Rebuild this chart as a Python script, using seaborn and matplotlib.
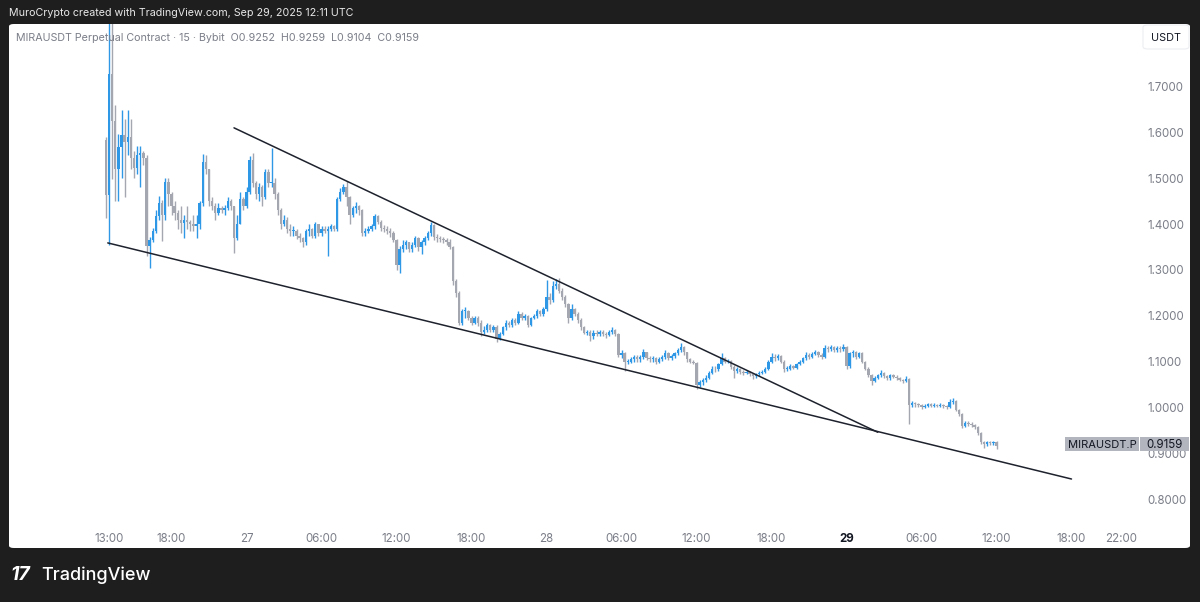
import numpy as np
import pandas as pd
import seaborn as sns
from matplotlib import pyplot as plt
from matplotlib.patches import Rectangle, FancyBboxPatch

# 15 minute candles, first one at Sep 26 12:45 (hours counted from Sep 26 00:00)
first_open = 1.584
closes = [
    1.463, 1.728, 1.624, 1.520, 1.569, 1.595, 1.580, 1.590, 1.545, 1.522, 1.550, 1.555,
    1.545, 1.353, 1.365, 1.385, 1.418, 1.445, 1.420, 1.492, 1.465, 1.440, 1.425, 1.410,
    1.403, 1.410, 1.405, 1.400, 1.395, 1.400, 1.447, 1.536, 1.520, 1.450, 1.440, 1.425,
    1.435, 1.430, 1.435, 1.450, 1.440, 1.370, 1.400, 1.455, 1.440, 1.470, 1.540, 1.490,
    1.465, 1.480, 1.460, 1.514, 1.490, 1.490, 1.465, 1.430, 1.400, 1.410, 1.390, 1.385,
    1.385, 1.375, 1.370, 1.360, 1.385, 1.390, 1.375, 1.400, 1.380, 1.390, 1.385, 1.390,
    1.395, 1.390, 1.455, 1.470, 1.480, 1.460, 1.420, 1.435, 1.440, 1.430, 1.380, 1.385,
    1.390, 1.395, 1.418, 1.405, 1.392, 1.390, 1.385, 1.380, 1.365, 1.310, 1.345, 1.355,
    1.360, 1.345, 1.355, 1.370, 1.350, 1.360, 1.370, 1.380, 1.398, 1.372, 1.370, 1.368,
    1.365, 1.362, 1.350, 1.275, 1.250, 1.185, 1.210, 1.210, 1.195, 1.185, 1.195, 1.185,
    1.165, 1.170, 1.180, 1.170, 1.175, 1.150, 1.160, 1.175, 1.185, 1.180, 1.190, 1.185,
    1.205, 1.195, 1.200, 1.180, 1.195, 1.200, 1.210, 1.205, 1.215, 1.240, 1.235, 1.265,
    1.270, 1.255, 1.240, 1.225, 1.195, 1.215, 1.205, 1.190, 1.175, 1.163, 1.165, 1.155,
    1.163, 1.160, 1.165, 1.160, 1.158, 1.165, 1.170, 1.160, 1.114, 1.118, 1.100, 1.100,
    1.105, 1.110, 1.105, 1.110, 1.120, 1.108, 1.105, 1.108, 1.100, 1.105, 1.110, 1.118,
    1.108, 1.112, 1.118, 1.125, 1.132, 1.120, 1.105, 1.100, 1.098, 1.048, 1.055, 1.060,
    1.065, 1.075, 1.085, 1.083, 1.095, 1.108, 1.100, 1.102, 1.088, 1.080, 1.083, 1.078,
    1.075, 1.078, 1.072, 1.068, 1.072, 1.075, 1.078, 1.085, 1.100, 1.110, 1.108, 1.112,
    1.100, 1.085, 1.085, 1.090, 1.087, 1.095, 1.100, 1.107, 1.115, 1.110, 1.117, 1.122,
    1.115, 1.110, 1.130, 1.128, 1.132, 1.125, 1.130, 1.127, 1.133, 1.090, 1.118, 1.120,
    1.110, 1.118, 1.100, 1.085, 1.070, 1.058, 1.065, 1.070, 1.076, 1.068, 1.065, 1.070,
    1.067, 1.064, 1.060, 1.057, 1.062, 1.005, 1.010, 1.007, 1.005, 1.000, 1.004, 1.007,
    1.004, 1.006, 1.003, 1.006, 1.003, 1.000, 1.012, 1.015, 0.995, 0.985, 0.960, 0.967,
    0.965, 0.962, 0.958, 0.945, 0.925, 0.920, 0.925, 0.922, 0.9252, 0.9159,
]
highs = [
    1.590, 1.840, 1.840, 1.660, 1.597, 1.650, 1.630, 1.650, 1.630, 1.560, 1.570, 1.570,
    1.560, 1.550, 1.372, 1.392, 1.430, 1.462, 1.452, 1.500, 1.500, 1.470, 1.450, 1.430,
    1.440, 1.420, 1.440, 1.410, 1.420, 1.420, 1.450, 1.553, 1.550, 1.520, 1.460, 1.445,
    1.445, 1.440, 1.442, 1.460, 1.455, 1.440, 1.420, 1.470, 1.460, 1.480, 1.548, 1.555,
    1.495, 1.490, 1.485, 1.520, 1.520, 1.565, 1.500, 1.470, 1.435, 1.420, 1.415, 1.400,
    1.395, 1.390, 1.380, 1.372, 1.390, 1.400, 1.392, 1.405, 1.400, 1.395, 1.395, 1.395,
    1.400, 1.398, 1.460, 1.478, 1.488, 1.495, 1.462, 1.440, 1.448, 1.442, 1.432, 1.392,
    1.395, 1.400, 1.422, 1.420, 1.408, 1.398, 1.395, 1.392, 1.385, 1.368, 1.352, 1.365,
    1.365, 1.362, 1.360, 1.375, 1.372, 1.365, 1.375, 1.385, 1.405, 1.400, 1.378, 1.375,
    1.372, 1.370, 1.368, 1.352, 1.280, 1.255, 1.215, 1.220, 1.212, 1.200, 1.200, 1.200,
    1.190, 1.178, 1.185, 1.182, 1.180, 1.180, 1.165, 1.178, 1.190, 1.188, 1.195, 1.195,
    1.210, 1.208, 1.205, 1.202, 1.198, 1.205, 1.215, 1.212, 1.220, 1.278, 1.250, 1.275,
    1.280, 1.282, 1.260, 1.245, 1.228, 1.225, 1.218, 1.208, 1.195, 1.178, 1.170, 1.168,
    1.168, 1.168, 1.170, 1.168, 1.165, 1.170, 1.175, 1.172, 1.162, 1.125, 1.120, 1.106,
    1.110, 1.115, 1.114, 1.115, 1.127, 1.122, 1.112, 1.112, 1.110, 1.110, 1.115, 1.125,
    1.120, 1.116, 1.122, 1.130, 1.140, 1.135, 1.122, 1.108, 1.104, 1.100, 1.060, 1.065,
    1.070, 1.080, 1.090, 1.090, 1.098, 1.118, 1.110, 1.106, 1.104, 1.092, 1.088, 1.086,
    1.082, 1.082, 1.080, 1.075, 1.076, 1.080, 1.082, 1.088, 1.104, 1.118, 1.116, 1.116,
    1.114, 1.104, 1.090, 1.094, 1.093, 1.098, 1.104, 1.110, 1.120, 1.118, 1.120, 1.126,
    1.124, 1.118, 1.137, 1.134, 1.136, 1.134, 1.134, 1.134, 1.138, 1.135, 1.122, 1.126,
    1.124, 1.122, 1.120, 1.102, 1.088, 1.072, 1.068, 1.074, 1.082, 1.078, 1.070, 1.074,
    1.072, 1.070, 1.066, 1.062, 1.068, 1.064, 1.014, 1.012, 1.010, 1.008, 1.008, 1.010,
    1.009, 1.009, 1.008, 1.009, 1.008, 1.006, 1.018, 1.020, 1.016, 0.997, 0.987, 0.970,
    0.970, 0.968, 0.965, 0.960, 0.946, 0.928, 0.928, 0.928, 0.928, 0.9259,
]
lows = [
    1.414, 1.355, 1.498, 1.450, 1.450, 1.500, 1.460, 1.550, 1.520, 1.500, 1.510, 1.480,
    1.530, 1.330, 1.304, 1.360, 1.380, 1.410, 1.364, 1.410, 1.440, 1.420, 1.410, 1.390,
    1.380, 1.370, 1.390, 1.385, 1.385, 1.370, 1.390, 1.440, 1.510, 1.440, 1.430, 1.410,
    1.420, 1.425, 1.420, 1.430, 1.430, 1.337, 1.365, 1.400, 1.430, 1.435, 1.465, 1.480,
    1.455, 1.450, 1.440, 1.455, 1.480, 1.480, 1.455, 1.420, 1.390, 1.395, 1.380, 1.375,
    1.375, 1.368, 1.362, 1.350, 1.355, 1.375, 1.370, 1.370, 1.375, 1.375, 1.380, 1.330,
    1.385, 1.384, 1.385, 1.450, 1.465, 1.440, 1.400, 1.415, 1.425, 1.420, 1.375, 1.375,
    1.380, 1.385, 1.390, 1.400, 1.385, 1.382, 1.378, 1.372, 1.360, 1.300, 1.293, 1.340,
    1.345, 1.340, 1.340, 1.350, 1.342, 1.335, 1.355, 1.365, 1.375, 1.365, 1.362, 1.362,
    1.358, 1.355, 1.345, 1.268, 1.240, 1.180, 1.180, 1.195, 1.190, 1.180, 1.182, 1.178,
    1.155, 1.160, 1.165, 1.165, 1.165, 1.143, 1.148, 1.158, 1.170, 1.175, 1.175, 1.180,
    1.182, 1.190, 1.190, 1.175, 1.178, 1.192, 1.195, 1.200, 1.200, 1.210, 1.225, 1.230,
    1.258, 1.250, 1.235, 1.220, 1.185, 1.190, 1.200, 1.185, 1.170, 1.160, 1.158, 1.145,
    1.150, 1.155, 1.155, 1.155, 1.152, 1.155, 1.160, 1.155, 1.110, 1.108, 1.080, 1.094,
    1.096, 1.100, 1.100, 1.100, 1.106, 1.104, 1.100, 1.100, 1.095, 1.098, 1.102, 1.106,
    1.104, 1.104, 1.108, 1.114, 1.120, 1.115, 1.100, 1.096, 1.094, 1.040, 1.044, 1.050,
    1.056, 1.062, 1.072, 1.078, 1.080, 1.092, 1.096, 1.096, 1.085, 1.064, 1.076, 1.074,
    1.070, 1.072, 1.068, 1.062, 1.065, 1.068, 1.072, 1.076, 1.082, 1.096, 1.102, 1.104,
    1.096, 1.078, 1.080, 1.082, 1.083, 1.085, 1.092, 1.097, 1.104, 1.106, 1.108, 1.114,
    1.110, 1.105, 1.108, 1.122, 1.124, 1.120, 1.122, 1.122, 1.124, 1.085, 1.086, 1.110,
    1.106, 1.108, 1.096, 1.082, 1.066, 1.048, 1.055, 1.062, 1.066, 1.064, 1.060, 1.060,
    1.064, 1.060, 1.057, 1.054, 1.055, 0.965, 1.000, 1.002, 1.000, 0.996, 0.998, 1.002,
    1.000, 1.001, 1.000, 1.001, 0.999, 0.996, 0.998, 1.008, 0.992, 0.982, 0.955, 0.958,
    0.960, 0.958, 0.954, 0.940, 0.920, 0.912, 0.916, 0.918, 0.918, 0.9104,
]
start_hour = 12.75
candle_hours = 0.25

# hand drawn trend lines (hour, price)
upper_line = [(23.0, 1.610), (74.5, 0.946)]
lower_line = [(12.9, 1.359), (90.0, 0.844)]

price_ticks = [0.8, 0.9, 1.0, 1.1, 1.2, 1.3, 1.4, 1.5, 1.6, 1.7]
time_ticks = [13, 18, 24, 30, 36, 42, 48, 54, 60, 66, 72, 78, 84, 90, 94]
time_labels = ['13:00', '18:00', '27', '06:00', '12:00', '18:00', '28', '06:00',
               '12:00', '18:00', '29', '06:00', '12:00', '18:00', '22:00']

last_price = '0.9159'
legend_text = ('MIRAUSDT Perpetual Contract · 15 · Bybit  '
               'O0.9252  H0.9259  L0.9104  C0.9159')
header_text = 'MuroCrypto created with TradingView.com, Sep 29, 2025 12:11 UTC'

df = pd.DataFrame({'close': closes, 'high': highs, 'low': lows})
df['open'] = [first_open] + closes[:-1]
df['hour'] = start_hour + candle_hours * np.arange(len(df))
df['up'] = df['close'] >= df['open']

sns.set_style('white')
plt.rcParams['font.family'] = ['Inter', 'DejaVu Sans']

W, H = 1200, 602
fig = plt.figure(figsize=(W / 100, H / 100), dpi=100, facecolor='#1e1e1e')


def fx(x):
    return x / W


def fy(y):
    return 1 - y / H


# white chart panel
fig.add_artist(FancyBboxPatch((fx(9), fy(548)), fx(1181), (548 - 24) / H,
                              boxstyle='round,pad=0,rounding_size=0.004',
                              transform=fig.transFigure, facecolor='white',
                              edgecolor='none', zorder=0))

ax = fig.add_axes([fx(9), fy(520), fx(1135 - 9), (520 - 24) / H])
ax.set_facecolor('none')
for s in ax.spines.values():
    s.set_visible(False)

up_col = '#2f98e6'
down_col = '#a4a7b0'
colors = np.where(df['up'], up_col, down_col)

ax.vlines(df['hour'], df['low'], df['high'], colors=colors, lw=1.0, zorder=2)
body_h = (df['close'] - df['open']).abs().clip(lower=0.002)
ax.bar(df['hour'], body_h, bottom=df[['open', 'close']].min(axis=1),
       width=0.19, color=colors, linewidth=0, zorder=3)

for line in (upper_line, lower_line):
    ln = pd.DataFrame(line, columns=['hour', 'price'])
    sns.lineplot(data=ln, x='hour', y='price', ax=ax, color='#1e222d',
                 lw=1.1, estimator=None, sort=False, zorder=4)

ax.set_xlim(5.0, 95.08)
ax.set_ylim(0.7546, 1.8365)
ax.set_xlabel('')
ax.set_ylabel('')

ax.yaxis.tick_right()
ax.set_yticks(price_ticks)
ax.set_yticklabels([f'{p:.4f}' for p in price_ticks])
ax.tick_params(axis='y', length=0, pad=9, labelsize=8.3, labelcolor='#7b7e88')
ax.set_xticks(time_ticks)
ax.set_xticklabels(time_labels)
ax.tick_params(axis='x', length=0, pad=9, labelsize=8.3, labelcolor='#7b7e88')
for t in ax.get_xticklabels():
    if t.get_text() == '29':
        t.set_color('#131722')
        t.set_fontweight('bold')
ax.grid(False)

# header, legend and badges
fig.text(fx(9), fy(12.5), header_text, color='#e8e8e8', fontsize=7.7, va='center')
fig.text(fx(16), fy(38), legend_text, color='#7b7e88', fontsize=7.7, va='center')

fig.add_artist(FancyBboxPatch((fx(1143), fy(49)), fx(46), 24 / H,
                              boxstyle='round,pad=0,rounding_size=0.004',
                              transform=fig.transFigure, facecolor='white',
                              edgecolor='#eceef2', lw=0.8, zorder=5))
fig.text(fx(1166), fy(38), 'USDT', color='#131722', fontsize=7.8,
         ha='center', va='center', zorder=6)

fig.add_artist(Rectangle((fx(1065), fy(451)), fx(74), 14 / H,
                         transform=fig.transFigure, facecolor='#b2b5be',
                         edgecolor='none', zorder=5))
fig.add_artist(Rectangle((fx(1140), fy(451)), fx(49), 14 / H,
                         transform=fig.transFigure, facecolor='#b2b5be',
                         edgecolor='none', zorder=5))
fig.text(fx(1102), fy(444.5), 'MIRAUSDT.P', color='#131722', fontsize=8,
         ha='center', va='center', zorder=6)
fig.text(fx(1164.5), fy(444.5), last_price, color='#131722', fontsize=8.3,
         ha='center', va='center', zorder=6)

# footer logo
fig.text(fx(10), fy(575), '17', color='white', fontsize=14, fontweight='bold',
         va='center', style='italic')
fig.text(fx(41), fy(575), 'TradingView', color='white', fontsize=13,
         fontweight='medium', va='center')

fig.savefig('out.png', dpi=100, facecolor=fig.get_facecolor())
